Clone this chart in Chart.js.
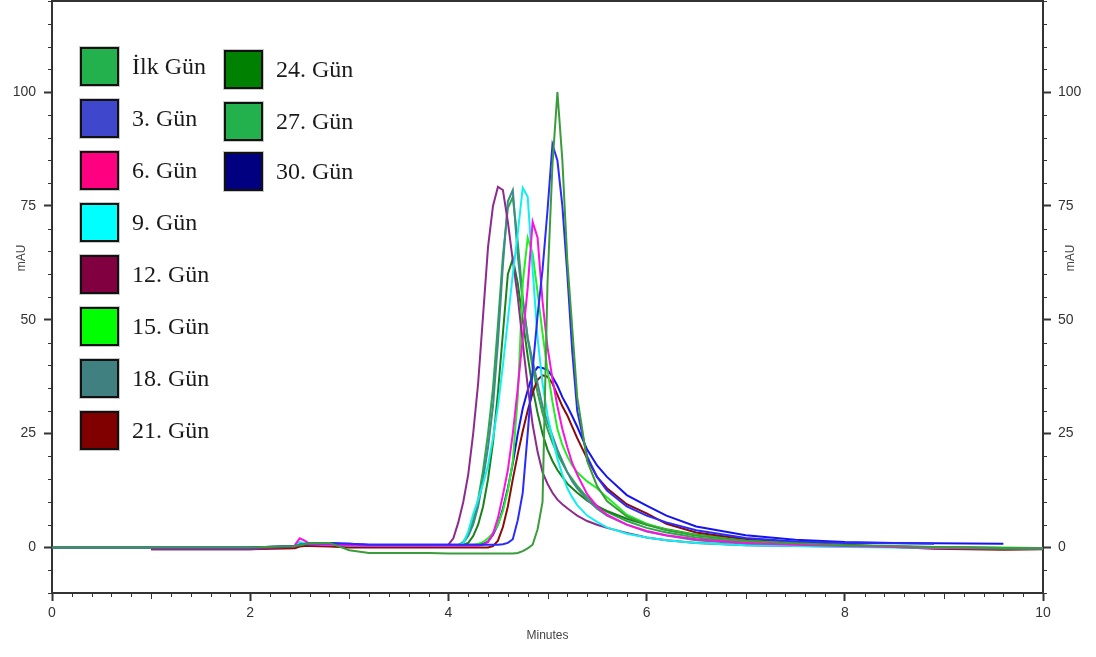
<!DOCTYPE html>
<html>
<head>
<meta charset="utf-8">
<script src="https://cdn.jsdelivr.net/npm/chart.js@4.4.1/dist/chart.umd.min.js"></script>
<style>
  html, body { margin: 0; padding: 0; background: #fff; }
  #wrap { position: relative; width: 1096px; height: 657px; overflow: hidden; }
  #c { position: absolute; left: 0; top: 0; }
  .lg { position: absolute; display: flex; align-items: center; font-family: "Liberation Serif", "Times New Roman", serif; font-size: 24px; color: #1a1a1a; }
  .lg .bx { width: 35px; height: 35px; border: 2px solid #111; box-shadow: 0 0 0 1px #c8c8c8; margin-right: 13px; flex: none; }
</style>
</head>
<body>
<div id="wrap">
  <canvas id="c" width="1096" height="657"></canvas>
  <div id="legend"></div>
</div>
<script>
// ---- data (minutes, mAU) ----
const TIMES = [0, 0.95, 1.0, 2.0, 2.45, 2.5, 2.55, 2.6, 2.8, 3.0, 3.2, 3.5, 3.8, 4.0,
  4.05, 4.1, 4.15, 4.2, 4.25, 4.3, 4.35, 4.4, 4.45, 4.5, 4.55, 4.6, 4.65, 4.7, 4.75, 4.8, 4.85, 4.9, 4.95, 5.0, 5.05, 5.1, 5.15, 5.2, 5.25, 5.3,
  5.4, 5.5, 5.6, 5.8, 6.0, 6.2, 6.5, 7.0, 7.5, 8.0, 8.5, 8.9, 9.6, 10.0];

const SERIES_NAMES = ["İlk Gün", "3. Gün", "6. Gün", "9. Gün", "12. Gün", "15. Gün", "18. Gün", "21. Gün", "24. Gün", "27. Gün", "30. Gün"];

const ILK_GUN = [0, 0, 0, 0, 0.3, 0.5, 0.7, 0.9, 1.0, -0.6, -1.2, -1.2, -1.2, -1.3,
  -1.3, -1.3, -1.3, -1.3, -1.3, -1.3, -1.3, -1.3, -1.3, -1.3, -1.3, -1.3, -1.3, -1.2, -0.8, -0.2, 0.6, 4, 10, 58, 84, 100, 85, 63, 48, 33,
  19, 13.5, 10.2, 6.8, 5, 3.8, 2.6, 1.5, 0.9, 0.5, 0.3, 0.1, -0.1, -0.2];
const GUN_3 = [0, 0, 0, 0, 0.3, 0.5, 0.7, 0.9, 0.9, 0.8, 0.6, 0.6, 0.6, 0.6,
  0.6, 0.6, 0.6, 0.6, 0.6, 0.6, 0.6, 0.6, 0.6, 0.6, 0.7, 1, 1.8, 6, 12, 25, 39, 51, 61, 74, 88.5, 85, 75, 60, 43, 30,
  20, 15.5, 12.5, 9, 7, 5.5, 3.8, 2.1, 1.3, 1, 0.9, 0.8, null, null];
const GUN_6 = [null, null, null, null, 0.5, 2, 1.5, 0.8, 0.6, 0.5, 0.4, 0.4, 0.4, 0.4,
  0.4, 0.4, 0.4, 0.4, 0.4, 0.4, 0.6, 1.2, 3, 6.5, 11.5, 17, 25, 35, 46, 57, 71.5, 68, 54, 44, 37, 31, 26, 22, 18.5, 16,
  11.7, 9, 7.2, 5, 3.6, 2.7, 1.8, 1, 0.6, 0.3, 0.1, 0, -0.1, -0.2];
const GUN_9 = [null, null, null, null, 0.3, 1.2, 1, 0.8, 0.6, 0.5, 0.4, 0.4, 0.4, 0.4,
  0.4, 0.5, 0.9, 3.5, 7.3, 10.5, 14, 18, 24, 31, 40, 50, 60, 69, 79, 77, 61, 46, 36, 29, 24, 19.5, 16, 13, 11, 9.3,
  7, 5.6, 4.4, 3, 2.2, 1.6, 1, 0.5, 0.3, 0.1, 0, 0, -0.1, -0.2];
const GUN_12 = [null, null, -0.4, -0.4, 0.2, 0.8, 0.7, 0.6, 0.5, 0.5, 0.4, 0.4, 0.4, 0.6,
  2, 5.5, 10, 16, 25, 36, 51, 66, 75, 79.2, 78.5, 71.5, 63, 55, 45, 35.5, 27, 21, 16.5, 14, 12, 10.5, 9.5, 8.6, 7.8, 7,
  5.8, 5, 4.3, 3.2, 2.2, 1.6, 1, 0.5, 0.3, 0.2, 0.1, 0, -0.1, -0.2];
const GUN_15 = [null, null, null, null, 0.3, 0.8, 0.9, 0.9, 0.8, 0.6, 0.4, 0.4, 0.4, 0.4,
  0.4, 0.4, 0.4, 0.4, 0.5, 0.8, 1.2, 2, 3.2, 5, 8, 12.5, 19, 33, 58, 68, 64.5, 56, 47, 39, 32, 26, 22.5, 20, 18, 16.5,
  14.5, 13, 11, 7.2, 5.2, 3.9, 2.7, 1.4, 0.8, 0.4, 0.2, 0.1, 0, -0.1];
const GUN_18 = [null, null, null, null, 0.3, 0.9, 0.8, 0.7, 0.6, 0.5, 0.4, 0.4, 0.4, 0.4,
  0.4, 0.5, 1, 2.5, 5, 9, 15, 22, 31, 45, 62, 76, 78.5, 64, 54, 46, 41, 36, 31, 27.5, 24.5, 21.5, 19, 16.5, 14.5, 13,
  10.5, 8.5, 7, 5, 3.5, 2.6, 1.6, 0.8, 0.5, 0.3, 0.1, -0.1, -0.3, -0.3];
const GUN_21 = [null, null, -0.4, -0.4, -0.2, 0.2, 0.3, 0.3, 0.2, 0, 0, 0, 0, 0,
  0, 0, 0, 0, 0, 0, 0, 0, 0.3, 1.5, 4.5, 9, 15, 20.5, 25.5, 30, 34, 36.8, 37.8, 37.5, 36, 33.5, 31, 29, 26.5, 24,
  19.5, 15.5, 13, 9.5, 7.5, 5.2, 3.3, 1.8, 1, 0.6, 0.1, -0.3, -0.5, -0.4];
const GUN_24 = [null, null, null, null, 0.3, 0.8, 0.9, 1.0, 1.0, 0.6, 0.4, 0.4, 0.4, 0.4,
  0.4, 0.4, 0.6, 1, 2.5, 5, 9, 15, 23, 34, 47, 60, 63.4, 58, 50, 42, 35, 29.5, 25, 21.5, 19, 17, 15.5, 14, 13, 12,
  10.3, 9, 8, 6.3, 5, 4, 2.8, 1.6, 0.9, 0.5, 0.2, 0, -0.2, -0.3];
const GUN_27 = [null, null, null, null, 0.3, 0.8, 0.9, 1.0, 1.0, 0.6, 0.4, 0.4, 0.4, 0.4,
  0.4, 0.5, 1.2, 3, 6, 10.5, 17, 25, 35, 49, 64, 74.5, 77, 67, 55, 46, 39.5, 34, 29.5, 26, 23, 20.5, 18.5, 16.5, 15, 13.5,
  11, 9.2, 7.8, 5.8, 4.3, 3.3, 2.2, 1.2, 0.7, 0.4, 0.2, 0, -0.2, -0.3];
const GUN_30 = [0, 0, 0, 0, 0.3, 0.6, 0.8, 0.9, 0.9, 0.8, 0.6, 0.6, 0.6, 0.6,
  0.6, 0.6, 0.6, 0.6, 0.6, 0.6, 0.8, 1.3, 2.8, 5, 8.5, 13, 18.5, 25, 30.5, 34.5, 38, 39.6, 39.4, 39, 37.5, 35.5, 33, 31, 28.8, 26.5,
  21.5, 18, 15.5, 11.5, 9.2, 7, 4.6, 2.7, 1.7, 1.2, 1, 0.9, 0.8, null];

const SERIES_VALUES = [ILK_GUN, GUN_3, GUN_6, GUN_9, GUN_12, GUN_15, GUN_18, GUN_21, GUN_24, GUN_27, GUN_30];

const X_TICKS = [0, 2, 4, 6, 8, 10];
const Y_TICKS = [0, 25, 50, 75, 100];

// ---- styles ----
const LEGEND_COLORS = ["#22b14c", "#3f48cc", "#ff0080", "#00ffff", "#800040", "#00ff00", "#408080", "#800000", "#008000", "#22b14c", "#000080"];
const LINE_COLORS   = ["#3a9c3a", "#2a2aff", "#ff10e0", "#10f0f0", "#8e2a8e", "#22ee22", "#3f8a8a", "#8b0a0a", "#1a801a", "#2aa84a", "#1414ee"];

const datasets = SERIES_NAMES.map((name, k) => ({
  label: name,
  data: TIMES.map((t, i) => ({ x: t, y: SERIES_VALUES[k][i] })),
  borderColor: LINE_COLORS[k],
  backgroundColor: LEGEND_COLORS[k],
  borderWidth: 2,
  pointRadius: 0,
  tension: 0,
  fill: false,
  spanGaps: false,
  yAxisID: 'y'
}));

const AXIS = '#333';
const TICK_FONT = { family: '"Liberation Sans", Arial, sans-serif', size: 14 };

const decor = {
  id: 'decor',
  afterDraw(chart) {
    const { ctx, chartArea: a, scales: { x, y } } = chart;
    ctx.save();
    ctx.strokeStyle = AXIS;
    ctx.lineWidth = 2;
    ctx.beginPath(); ctx.moveTo(a.left, a.top); ctx.lineTo(a.right, a.top); ctx.stroke();
    ctx.lineWidth = 1;
    ctx.beginPath();
    for (let v = -10; v <= 120; v += 5) {
      if (v % 25 === 0) continue;
      const py = Math.round(y.getPixelForValue(v)) + 0.5;
      ctx.moveTo(a.left - 4, py); ctx.lineTo(a.left, py);
      ctx.moveTo(a.right, py); ctx.lineTo(a.right + 4, py);
    }
    for (let i = 1; i < 50; i++) {
      if (i % 10 === 0) continue;
      const px = Math.round(x.getPixelForValue(i / 5)) + 0.5;
      const len = (i % 5 === 0) ? 6 : 4;
      ctx.moveTo(px, a.bottom); ctx.lineTo(px, a.bottom + len);
    }
    ctx.stroke();
    // y axis titles
    ctx.fillStyle = '#444';
    ctx.font = '12px "Liberation Sans", Arial, sans-serif';
    ctx.textAlign = 'center'; ctx.textBaseline = 'middle';
    ctx.save(); ctx.translate(22, 258); ctx.rotate(-Math.PI / 2); ctx.fillText('mAU', 0, 0); ctx.restore();
    ctx.save(); ctx.translate(1071, 258); ctx.rotate(-Math.PI / 2); ctx.fillText('mAU', 0, 0); ctx.restore();
    ctx.restore();
  }
};

const yScale = (pos) => ({
  type: 'linear',
  position: pos,
  min: -10, max: 120,
  afterBuildTicks: (s) => { s.ticks = Y_TICKS.map(v => ({ value: v })); },
  afterFit: (s) => { s.width = pos === 'left' ? 52 : 53; s.paddingTop = 0; s.paddingBottom = 0; },
  grid: { drawOnChartArea: false, drawTicks: true, tickLength: 8, tickColor: AXIS, tickWidth: 2 },
  border: { display: true, color: AXIS, width: 2 },
  ticks: { color: '#333', font: TICK_FONT, padding: pos === 'left' ? 8 : 7 }
});

new Chart(document.getElementById('c'), {
  type: 'line',
  data: { datasets },
  plugins: [decor],
  options: {
    responsive: false,
    animation: false,
    layout: { padding: { top: 1, left: 0, right: 0, bottom: 0 } },
    plugins: { legend: { display: false }, tooltip: { enabled: false } },
    scales: {
      x: {
        type: 'linear', position: 'bottom', min: 0, max: 10,
        afterBuildTicks: (s) => { s.ticks = X_TICKS.map(v => ({ value: v })); },
        afterFit: (s) => { s.height = 64; s.paddingLeft = 0; s.paddingRight = 0; },
        grid: { drawOnChartArea: false, drawTicks: true, tickLength: 8, tickColor: AXIS, tickWidth: 2 },
        border: { display: true, color: AXIS, width: 2 },
        ticks: { color: '#333', font: TICK_FONT, padding: 4, maxRotation: 0 },
        title: { display: true, text: 'Minutes', color: '#444', font: { family: '"Liberation Sans", Arial, sans-serif', size: 12 }, padding: { top: 2, bottom: 14 } }
      },
      y: yScale('left'),
      y2: yScale('right')
    }
  }
});

// ---- HTML legend ----
const LEGEND_POS = [
  [80, 47], [80, 99], [80, 151], [80, 203], [80, 255], [80, 307], [80, 359], [80, 411],
  [224, 50], [224, 102], [224, 152]
];
const lg = document.getElementById('legend');
SERIES_NAMES.forEach((name, k) => {
  const d = document.createElement('div');
  d.className = 'lg';
  d.style.left = LEGEND_POS[k][0] + 'px';
  d.style.top = LEGEND_POS[k][1] + 'px';
  const b = document.createElement('span');
  b.className = 'bx';
  b.style.background = LEGEND_COLORS[k];
  const s = document.createElement('span');
  s.textContent = name;
  d.appendChild(b); d.appendChild(s);
  lg.appendChild(d);
});
</script>
</body>
</html>
